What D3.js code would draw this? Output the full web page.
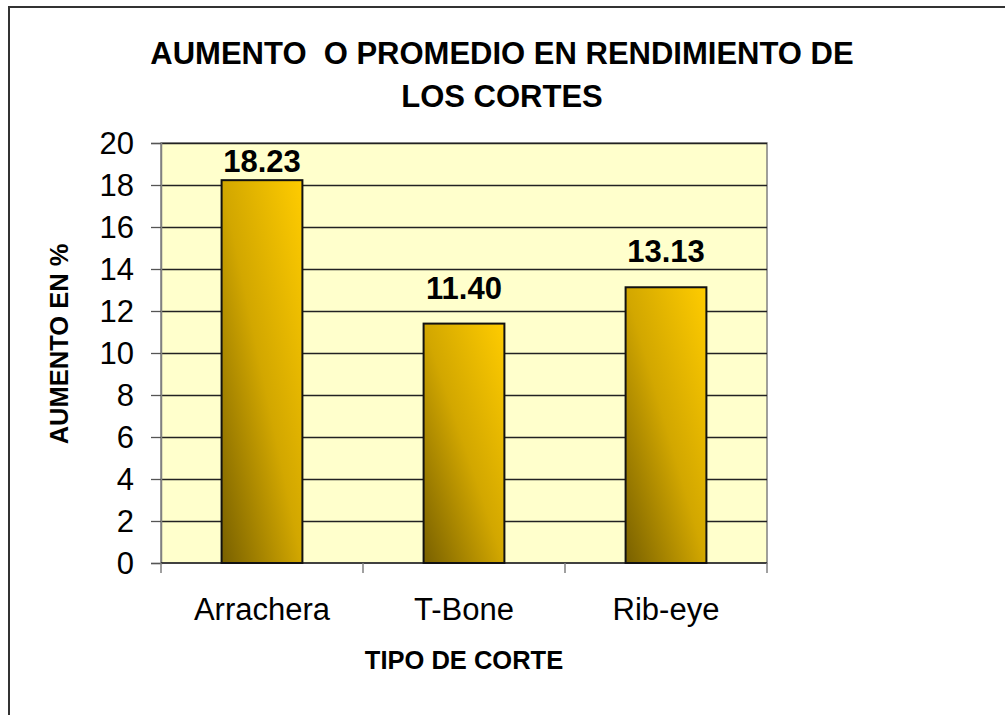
<!DOCTYPE html>
<html>
<head>
<meta charset="utf-8">
<script src="https://cdn.jsdelivr.net/npm/d3@7"></script>
<style>
    body { margin: 0; background: #fff; }
    svg { display: block; font-family: 'Liberation Sans', Arial, sans-serif; }
</style>
</head>
<body>
<div id="chart"></div>
<script>
const categories = ['Arrachera', 'T-Bone', 'Rib-eye']
const values = [18.23, 11.40, 13.13]
const yTicks = [0, 2, 4, 6, 8, 10, 12, 14, 16, 18, 20]
const titleLines = ['AUMENTO  O PROMEDIO EN RENDIMIENTO DE', 'LOS CORTES']

const width = 1005
const height = 715
const margin = { top: 143, right: 238, bottom: 152, left: 161 }
const boundedWidth = width - margin.left - margin.right
const boundedHeight = height - margin.top - margin.bottom

const svg = d3.select('#chart')
    .append('svg')
    .attr('width', width)
    .attr('height', height)

// outer chart border (runs off the right and bottom edges)
svg.append('rect')
    .attr('x', 9)
    .attr('y', 7)
    .attr('width', width + 20)
    .attr('height', height + 20)
    .attr('fill', '#fff')
    .attr('stroke', '#333')
    .attr('stroke-width', 2)

const defs = svg.append('defs')
const grad = defs.append('linearGradient')
    .attr('id', 'barFill')
    .attr('x1', 0).attr('y1', 1)
    .attr('x2', 1).attr('y2', 0)
grad.append('stop').attr('offset', '0%').attr('stop-color', '#786000')
grad.append('stop').attr('offset', '50%').attr('stop-color', '#d2a700')
grad.append('stop').attr('offset', '100%').attr('stop-color', '#ffcc00')

const title = svg.append('text')
    .attr('text-anchor', 'middle')
    .attr('font-size', 31)
    .attr('font-weight', 'bold')
    .attr('fill', '#000')
title.selectAll('tspan')
    .data(titleLines)
    .join('tspan')
    .attr('x', 502)
    .attr('y', (d, i) => 64 + i * 43)
    .attr('xml:space', 'preserve')
    .style('white-space', 'pre')
    .text(d => d)

const bounds = svg.append('g')
    .attr('transform', `translate(${margin.left},${margin.top})`)

const xScale = d3.scaleBand()
    .domain(categories)
    .range([0, boundedWidth])
    .paddingInner(0.6)
    .paddingOuter(0.3)

const yScale = d3.scaleLinear()
    .domain([0, 20])
    .range([boundedHeight, 0])

bounds.append('rect')
    .attr('width', boundedWidth)
    .attr('height', boundedHeight)
    .attr('fill', '#ffffcc')
    .attr('stroke', '#808080')
    .attr('stroke-width', 1.5)

// gridlines
bounds.append('g')
    .selectAll('line')
    .data(yTicks.filter(d => d > 0))
    .join('line')
    .attr('x1', 0)
    .attr('x2', boundedWidth)
    .attr('y1', d => Math.round(yScale(d)) + 0.5)
    .attr('y2', d => Math.round(yScale(d)) + 0.5)
    .attr('stroke', '#222')
    .attr('stroke-width', 1.3)

const yAxis = d3.axisLeft(yScale)
    .tickValues(yTicks)
    .tickSize(10)
    .tickPadding(17)
const yAxisGroup = bounds.append('g').call(yAxis)
yAxisGroup.select('.domain').attr('stroke', '#808080').attr('stroke-width', 1.5)
yAxisGroup.selectAll('.tick line').attr('stroke', '#555').attr('stroke-width', 1.3)
yAxisGroup.selectAll('.tick text')
    .attr('font-size', 31)
    .attr('font-family', "'Liberation Sans', Arial, sans-serif")
    .attr('fill', '#000')
    .attr('dy', '0.35em')

// x axis: ticks sit on category boundaries
const boundaries = d3.range(categories.length + 1).map(i => i * boundedWidth / categories.length)
const xAxisGroup = bounds.append('g')
    .attr('transform', `translate(0,${boundedHeight})`)
xAxisGroup.append('line')
    .attr('x1', 0).attr('x2', boundedWidth)
    .attr('stroke', '#222').attr('stroke-width', 1.5)
xAxisGroup.selectAll('.btick')
    .data(boundaries)
    .join('line')
    .attr('class', 'btick')
    .attr('x1', d => d).attr('x2', d => d)
    .attr('y1', 0).attr('y2', 10)
    .attr('stroke', '#808080').attr('stroke-width', 1.5)
xAxisGroup.selectAll('.xlabel')
    .data(categories)
    .join('text')
    .attr('class', 'xlabel')
    .attr('x', d => xScale(d) + xScale.bandwidth() / 2)
    .attr('y', 57)
    .attr('text-anchor', 'middle')
    .attr('font-size', 31)
    .attr('fill', '#000')
    .text(d => d)

const data = categories.map((c, i) => ({ category: c, value: values[i] }))

bounds.selectAll('.bar')
    .data(data)
    .join('rect')
    .attr('class', 'bar')
    .attr('x', d => xScale(d.category))
    .attr('y', d => yScale(d.value))
    .attr('width', xScale.bandwidth())
    .attr('height', d => boundedHeight - yScale(d.value))
    .attr('fill', 'url(#barFill)')
    .attr('stroke', '#111')
    .attr('stroke-width', 2)

// value labels, kept inside the plot area like Excel does
bounds.selectAll('.value')
    .data(data)
    .join('text')
    .attr('class', 'value')
    .attr('x', d => xScale(d.category) + xScale.bandwidth() / 2)
    .attr('y', d => Math.max(yScale(d.value) - 25, yScale(20) + 29))
    .attr('text-anchor', 'middle')
    .attr('font-size', 31)
    .attr('font-weight', 'bold')
    .attr('fill', '#000')
    .text(d => d.value.toFixed(2))

svg.append('text')
    .attr('x', margin.left + boundedWidth / 2)
    .attr('y', 669)
    .attr('text-anchor', 'middle')
    .attr('font-size', 25.5)
    .attr('font-weight', 'bold')
    .text('TIPO DE CORTE')

svg.append('text')
    .attr('transform', 'translate(68,344) rotate(-90)')
    .attr('text-anchor', 'middle')
    .attr('font-size', 25.5)
    .attr('font-weight', 'bold')
    .text('AUMENTO EN %')
</script>
</body>
</html>
